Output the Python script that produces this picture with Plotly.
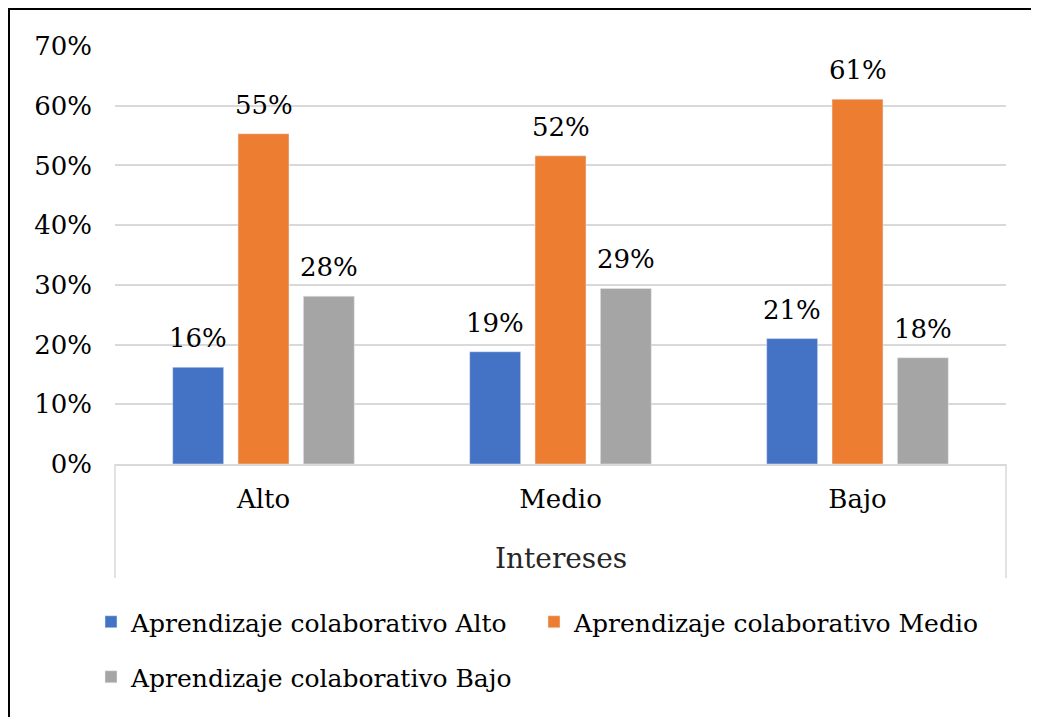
import plotly.graph_objects as go

categories = ["Alto", "Medio", "Bajo"]
series_names = [
    "Aprendizaje colaborativo Alto",
    "Aprendizaje colaborativo Medio",
    "Aprendizaje colaborativo Bajo",
]
alto_vals = [0.162, 0.188, 0.210]
medio_vals = [0.553, 0.516, 0.611]
bajo_vals = [0.281, 0.294, 0.178]
colors = ["#4472C4", "#ED7D31", "#A5A5A5"]
y_ticks = [0, 0.1, 0.2, 0.3, 0.4, 0.5, 0.6, 0.7]
x_title = "Intereses"

W, H = 1039, 717
OFF = 8  # page body margin
L, R, T, B = 115 - OFF, 33 + OFF, 46 - OFF, 253 + OFF
pw, ph = W - L - R, H - T - B

def px_x(x):  # x in reference screen pixels
    return (x - OFF - L) / pw

def px_y(y):
    return (H - B - (y - OFF)) / ph

FONT = "DejaVu Serif"
FS = 26
BARGAP = 0.34
NSER = 3
slot = (1 - BARGAP) / NSER

legend_ids = ["legend", "legend3", "legend2"]

fig = go.Figure()
all_vals = [alto_vals, medio_vals, bajo_vals]
for k, (name, vals, col) in enumerate(zip(series_names, all_vals, colors)):
    fig.add_trace(go.Bar(
        x=categories, y=vals, name=name, marker_color=col,
        legend=legend_ids[k],
    ))

annotations = []
for k, vals in enumerate(all_vals):
    for i, v in enumerate(vals):
        annotations.append(dict(
            x=i + (k - 1) * slot, y=v, xref="x", yref="y",
            text=f"{round(v * 100):d}%", showarrow=False,
            xanchor="center", yanchor="bottom", yshift=12,
            font=dict(family=FONT, size=FS, color="#000000"),
        ))
annotations.append(dict(
    text=x_title, xref="paper", yref="paper", x=0.5, y=px_y(558),
    xanchor="center", yanchor="middle", showarrow=False,
    font=dict(family=FONT, size=28, color="#262626"),
))

shapes = [
    dict(type="line", xref="paper", yref="paper", x0=px_x(8.5), x1=px_x(W + 20),
         y0=px_y(8.5), y1=px_y(8.5), line=dict(color="black", width=3)),
    dict(type="line", xref="paper", yref="paper", x0=px_x(8.5), x1=px_x(8.5),
         y0=px_y(7), y1=px_y(H + 20), line=dict(color="black", width=3)),
    dict(type="line", xref="paper", yref="paper", x0=0, x1=0,
         y0=0, y1=px_y(578), line=dict(color="#D9D9D9", width=1.5)),
    dict(type="line", xref="paper", yref="paper", x0=1, x1=1,
         y0=0, y1=px_y(578), line=dict(color="#D9D9D9", width=1.5)),
]

legend_common = dict(
    orientation="h", xanchor="left", yanchor="middle",
    font=dict(family=FONT, size=25, color="#000000"),
    itemwidth=30, bgcolor="rgba(0,0,0,0)",
)

fig.update_layout(
    width=W, height=H,
    margin=dict(l=L, r=R, t=T, b=B, autoexpand=False),
    paper_bgcolor="white", plot_bgcolor="white",
    barmode="group", bargap=BARGAP, bargroupgap=0.22,
    font=dict(family=FONT, size=FS, color="#000000"),
    showlegend=True,
    legend=dict(x=px_x(91), y=px_y(622), **legend_common),
    legend3=dict(x=px_x(534), y=px_y(622), **legend_common),
    legend2=dict(x=px_x(91), y=px_y(677), **legend_common),
    shapes=shapes,
    annotations=annotations,
)

fig.update_yaxes(
    range=[0, 0.7], tickvals=y_ticks, tickformat=".0%",
    showgrid=True, gridcolor="#D9D9D9", gridwidth=1.5,
    zeroline=False, showline=False, ticks="",
    ticklabelstandoff=22,
    tickfont=dict(family=FONT, size=FS, color="#000000"),
)
fig.update_xaxes(
    showline=True, linecolor="#D9D9D9", linewidth=1.5,
    ticks="", ticklabelstandoff=11,
    tickfont=dict(family=FONT, size=FS, color="#000000"),
)

fig.write_html("out.html")
